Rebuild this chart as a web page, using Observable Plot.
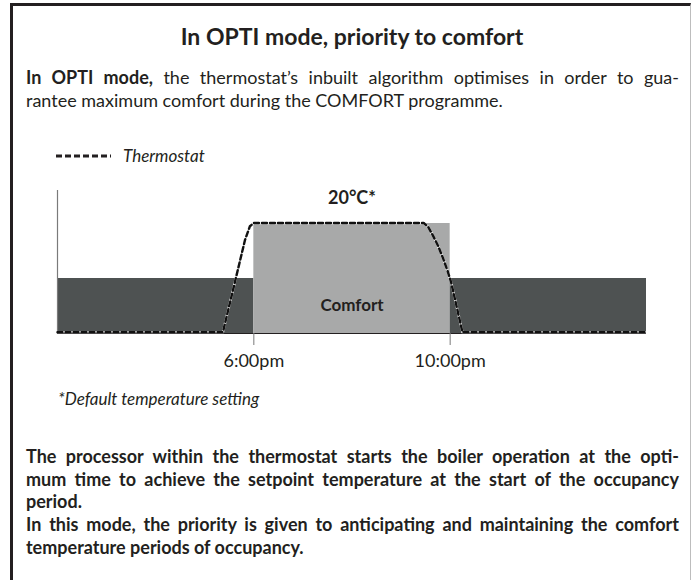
<!DOCTYPE html>
<html>
<head>
<meta charset="utf-8">
<script src="https://cdn.jsdelivr.net/npm/d3@7"></script>
<script src="https://cdn.jsdelivr.net/npm/@observablehq/plot@0.6"></script>
<style>
  html, body { margin: 0; padding: 0; background: #fff; }
  #page { position: relative; width: 692px; height: 580px; overflow: hidden; font-family: Lato, "Open Sans", sans-serif; color: #231f20; }
  #frame { position: absolute; left: 10px; top: 3px; width: 677px; height: 640px; border-top: 3px solid #231f20; border-left: 3px solid #231f20; border-right: 1px solid #bdbdbd; }
  .line { position: absolute; left: 26px; width: 653px; white-space: normal; }
  .just { text-align: justify; text-align-last: justify; }
  .body { font-size: 18px; line-height: 22px; }
  .bold { font-weight: 700; }
  #title { position: absolute; left: 13px; width: 678px; top: 23px; text-align: center; font-weight: 700; font-size: 23px; line-height: 27px; }
  #legend { position: absolute; left: 56px; top: 146px; font-size: 17px; font-style: italic; line-height: 20px; display: flex; align-items: center; }
  #legend svg { margin-right: 12px; }
  #note { position: absolute; left: 58px; top: 389px; font-size: 17px; font-style: italic; line-height: 20px; }
  #chart { position: absolute; left: 0; top: 180px; }
</style>
</head>
<body>
<div id="page">
  <div id="frame"></div>
  <div id="title">In OPTI mode, priority to comfort</div>
  <div class="line body just" style="top:66px"><b>In OPTI mode,</b> the thermostat’s inbuilt algorithm optimises in order to gua-</div>
  <div class="line body" style="top:89px">rantee maximum comfort during the COMFORT programme.</div>
  <div id="legend"><svg width="55" height="6"><line x1="0" y1="3" x2="55" y2="3" stroke="#231f20" stroke-width="2.8" stroke-dasharray="6,3"></line></svg><span>Thermostat</span></div>
  <div id="chart"></div>
  <div id="note">*Default temperature setting</div>
  <div class="line body bold just" style="top:445px">The processor within the thermostat starts the boiler operation at the opti-</div>
  <div class="line body bold just" style="top:467.7px">mum time to achieve the setpoint temperature at the start of the occupancy</div>
  <div class="line body bold" style="top:490.4px">period.</div>
  <div class="line body bold just" style="top:513.1px">In this mode, the priority is given to anticipating and maintaining the comfort</div>
  <div class="line body bold" style="top:535.8px">temperature periods of occupancy.</div>
</div>
<script>
// ---- data ----
const periodNames  = ["Reduced", "Comfort", "Reduced"];
const periodStart  = [14, 18, 22];     // hour of day
const periodEnd    = [18, 22, 26];
const periodLevel  = [10, 20, 10];     // relative setpoint level
const periodColor  = ["#4e5252", "#a8a9a9", "#4e5252"];

const tickHours  = [18, 22];
const tickLabels = ["6:00pm", "10:00pm"];

const thermoHours = [14, 17.37, 17.82, 17.92, 18.0, 21.46, 21.55, 21.65, 21.75, 21.85, 21.95, 22.02, 22.25, 26];
const thermoLevel = [0.25, 0.25, 17.0, 19.5, 20.1, 20.1, 19.4, 17.8, 16.0, 13.8, 11.3, 9.3, 0.25, 0.25];

const labelTexts = ["20°C*", "Comfort"];
const labelHours = [20, 20];
const labelLevel = [20, 5];

// ---- build tables ----
const periods = periodNames.map((name, i) => ({name, x1: periodStart[i], x2: periodEnd[i], y: periodLevel[i], color: periodColor[i]}));
const thermo = thermoHours.map((t, i) => ({t, v: thermoLevel[i]}));
const labels = labelTexts.map((text, i) => ({text, x: labelHours[i], y: labelLevel[i]}));

const chart = Plot.plot({
  width: 692,
  height: 200,
  marginLeft: 57,
  marginRight: 46,
  marginTop: 10,
  marginBottom: 47,
  x: {domain: [14, 26]},
  y: {domain: [0, 26], axis: null},
  style: {fontFamily: "Lato, 'Open Sans', sans-serif", fontSize: "18px", color: "#231f20", background: "transparent"},
  marks: [
    Plot.rectY(periods, {x1: "x1", x2: "x2", y1: 0, y2: "y", fill: "color"}),
    Plot.ruleY([0], {stroke: "#231f20", strokeWidth: 1.2}),
    Plot.ruleX([14], {y1: 0, y2: 26, stroke: "#7a7a7a", strokeWidth: 1.2}),
    Plot.axisX({ticks: tickHours, tickFormat: d => tickLabels[tickHours.indexOf(d)], tickSize: 12, tickPadding: 9, stroke: "#7a7a7a", fill: "#231f20", fontSize: 18}),
    Plot.line(thermo, {x: "t", y: "v", stroke: "white", strokeWidth: 2.4}),
    Plot.line(thermo, {x: "t", y: "v", stroke: "#111", strokeWidth: 2.4, strokeDasharray: "5,3"}),
    Plot.text(labels.slice(0,1), {x: "x", y: "y", text: "text", dy: -25, fontWeight: "bold", fontSize: 18, fill: "#231f20"}),
    Plot.text(labels.slice(1), {x: "x", y: "y", text: "text", fontWeight: "bold", fontSize: 17, fill: "#231f20"})
  ]
});
document.getElementById("chart").appendChild(chart);
</script>
</body>
</html>
